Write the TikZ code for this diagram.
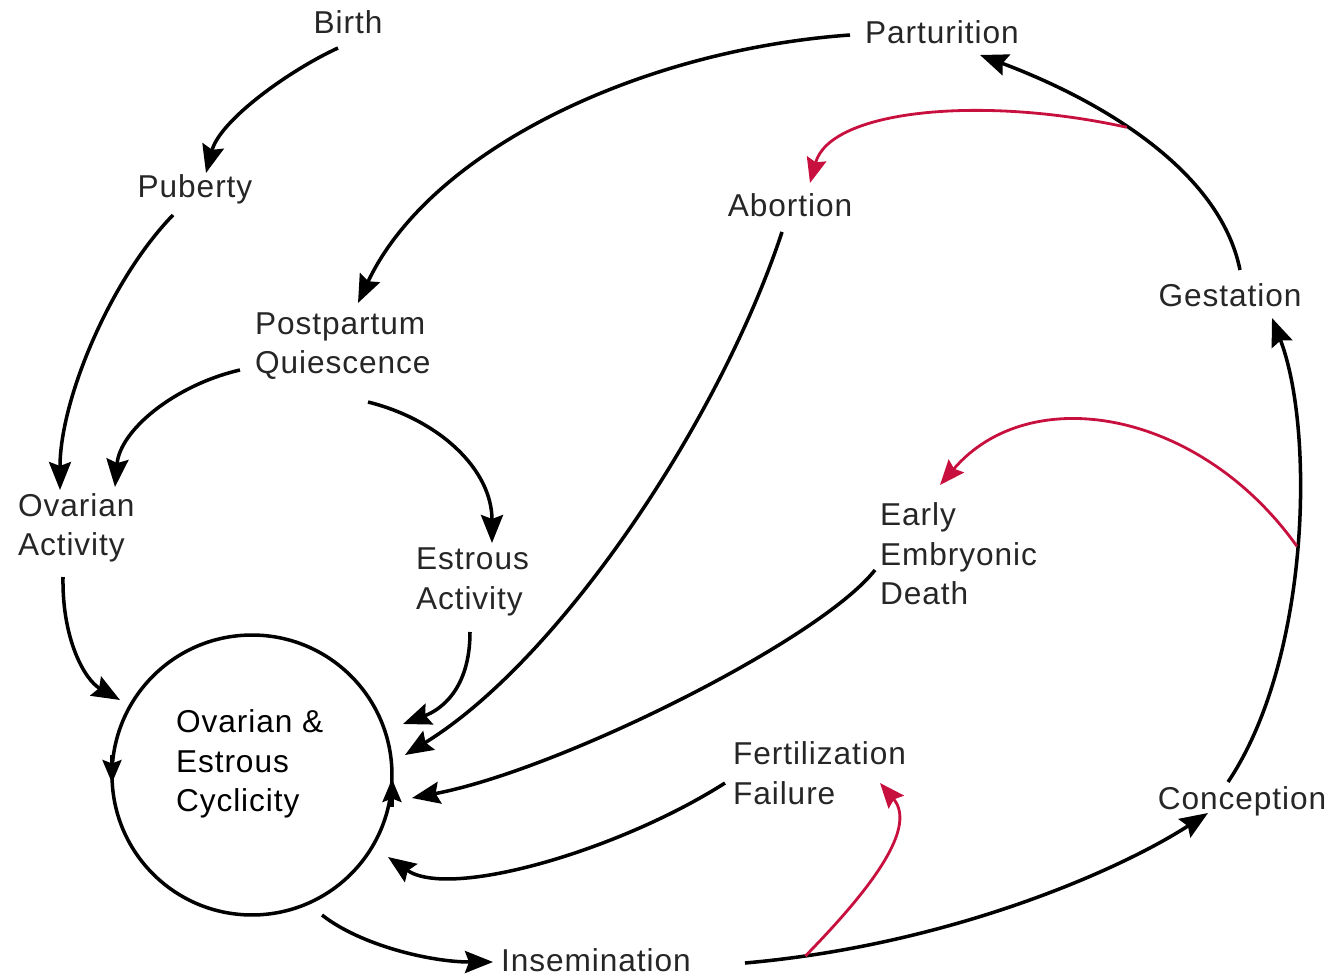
\documentclass[tikz,border=0pt]{standalone}
\usepackage{fontspec}
\setmainfont{Liberation Sans}[LetterSpace=3.0]
\usetikzlibrary{arrows.meta}
\definecolor{txtgray}{HTML}{262626}
\definecolor{redarrow}{HTML}{C8103E}
\begin{document}
\begin{tikzpicture}[x=0.02cm, y=-0.02cm,
  lbl/.style={font=\fontsize{18}{22.5}\selectfont, text=txtgray,
              inner sep=0pt, outer sep=0pt, align=left},
  cycnode/.style={circle, draw, line width=2pt, minimum size=5.6cm,
                  inner sep=0pt, outer sep=0pt},
  conn/.style={line width=2pt,
               -{Stealth[length=0.56cm, width=0.44cm, inset=0.08cm]}},
  redconn/.style={line width=1.6pt, draw=redarrow,
               -{Stealth[length=0.5cm, width=0.4cm, inset=0.07cm]}},
  cyctip/.style={line width=2pt,
               -{Stealth[length=0.46cm, width=0.38cm, inset=0.07cm]}}]
\useasboundingbox (0,0) rectangle (1335,976);

% stages of the reproductive cycle
\node[lbl] (birth) at (348,22) {Birth};
\node[lbl] (part)  at (942,32) {Parturition};
\node[lbl] (pub)   at (195,189) {Puberty};
\node[lbl] (abort) at (790,205) {Abortion};
\node[lbl] (gest)  at (1230,295) {Gestation};
\node[lbl, anchor=west] (pq)  at (255,346) {Postpartum\\Quiescence};
\node[lbl, anchor=west] (oa)  at (18,528)  {Ovarian\\Activity};
\node[lbl, anchor=west] (ea)  at (416,582) {Estrous\\Activity};
\node[lbl, anchor=west] (eed) at (880,554) {Early\\Embryonic\\Death};
\node[lbl, anchor=west] (ff)  at (733,773) {Fertilization\\Failure};
\node[lbl] (conc)  at (1242,801) {Conception};
\node[lbl] (insem) at (596,960) {Insemination};

% the central cycle
\node[cycnode] (cyc) at (252,775) {};
\node[lbl, text=black, anchor=west] (cyctxt) at (176,764) {Ovarian \&\\Estrous\\Cyclicity};
\draw[cyctip] ([shift={(-140,-20)}]cyc.center) -- ([shift={(-140,8)}]cyc.center);
\draw[cyctip] ([shift={(140,32)}]cyc.center) -- ([shift={(140,4)}]cyc.center);

% black transitions
\draw[conn] ([shift={(-10,26)}]birth.center) .. controls (290,70) and (220,120) .. ([shift={(11,-16)}]pub.center);
\draw[conn] ([shift={(-22,26)}]pub.center) .. controls (110,280) and (60,400) .. ([shift={(42,-38)}]oa.west);
\draw[conn] ([shift={(-92,3)}]part.center) .. controls (640,50) and (430,150) .. ([shift={(103,-43)}]pq.west);
\draw[conn] ([shift={(-15,24)}]pq.west) .. controls (175,385) and (120,430) .. ([shift={(97,-41)}]oa.west);
\draw[conn] ([shift={(113,56)}]pq.west) .. controls (440,420) and (492,470) .. ([shift={(76,-39)}]ea.west);
\draw[conn] ([shift={(45,49)}]oa.west) .. controls (62,640) and (85,680) .. ([shift={(-132,-75)}]cyc.center);
\draw[conn] ([shift={(54,50)}]ea.west) .. controls (470,690) and (440,710) .. ([shift={(151,-51)}]cyc.center);
\draw[conn] ([shift={(-8,27)}]abort.center) .. controls (720,420) and (560,660) .. ([shift={(153,-20)}]cyc.center);
\draw[conn] ([shift={(-5,16)}]eed.west) .. controls (820,640) and (560,770) .. ([shift={(160,23)}]cyc.center);
\draw[conn] ([shift={(-8,10)}]ff.west) .. controls (620,850) and (450,900) .. ([shift={(136,82)}]cyc.center);
\draw[conn] ([shift={(70,140)}]cyc.center) .. controls (360,945) and (430,962) .. ([shift={(-103,2)}]insem.center);
\draw[conn] ([shift={(149,3)}]insem.center) .. controls (950,945) and (1120,870) .. coordinate[pos=0.1] (fail) ([shift={(-34,12)}]conc.center);
\draw[conn] ([shift={(-14,-19)}]conc.center) .. controls (1310,660) and (1315,430) .. coordinate[pos=0.5] (loss) ([shift={(42,23)}]gest.center);
\draw[conn] ([shift={(10,-25)}]gest.center) .. controls (1220,170) and (1100,100) .. coordinate[pos=0.57] (abrt) ([shift={(38,23)}]part.center);

% red failure branches
\draw[redconn] (abrt) .. controls (980,95) and (830,110) .. ([shift={(20,-22)}]abort.center);
\draw[redconn] (loss) .. controls (1200,410) and (1030,380) .. ([shift={(60,-69)}]eed.west);
\draw[redconn] (fail) .. controls (860,900) and (920,830) .. ([shift={(147,10)}]ff.west);
\end{tikzpicture}
\end{document}
